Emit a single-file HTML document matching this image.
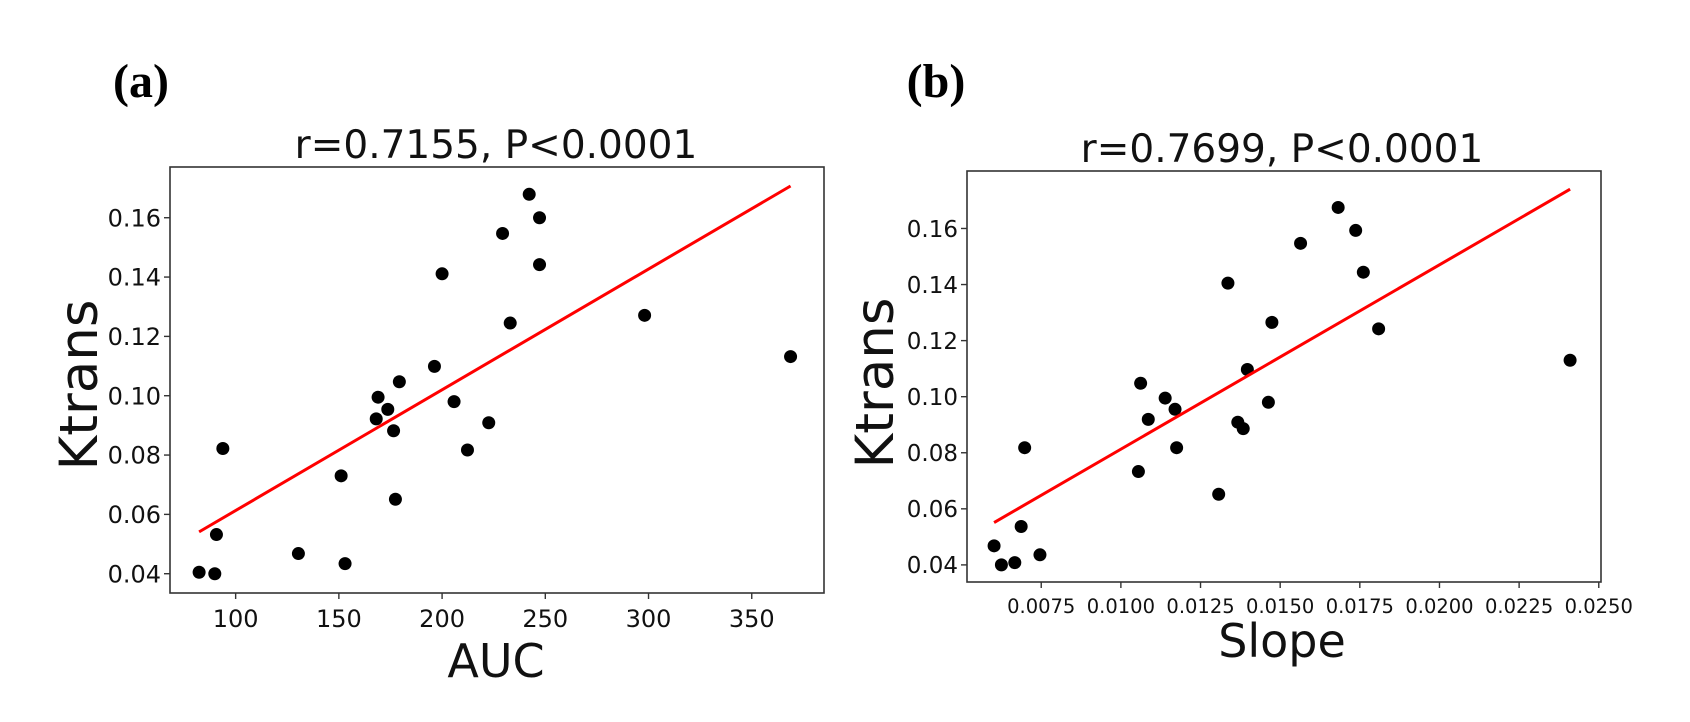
<!DOCTYPE html>
<html><head><meta charset="utf-8"><style>
html,body{margin:0;padding:0;background:#fff;width:1690px;height:722px;overflow:hidden}
svg{display:block;font-family:"DejaVu Sans","Liberation Sans",sans-serif}
</style></head><body>
<svg id="fig" width="1690" height="722" viewBox="0 0 1690 722" xmlns="http://www.w3.org/2000/svg">
<text x="141" y="97" text-anchor="middle" font-family="Liberation Serif, serif" font-weight="bold" font-size="48">(a)</text>
<text x="936" y="97" text-anchor="middle" font-family="Liberation Serif, serif" font-weight="bold" font-size="48">(b)</text>
</svg>
<script>
const aucX = [82.3,89.9,90.7,93.8,130.4,151.1,153.0,168.1,169.0,173.7,176.5,177.4,179.3,196.3,200.0,205.8,212.3,222.6,229.3,233.0,242.2,247.2,247.2,298.1,368.8];
const aucY = [0.0405,0.040,0.0532,0.0822,0.0468,0.073,0.0434,0.0922,0.0995,0.0954,0.0882,0.0651,0.1047,0.1099,0.1411,0.098,0.0817,0.0909,0.1547,0.1245,0.1679,0.16,0.1442,0.1271,0.1132];
const aucFitX = [82.3,368.8];
const aucFitY = [0.0541,0.1707];
const aucXTicks = [100,150,200,250,300,350];
const aucXTickLabels = ["100","150","200","250","300","350"];
const slopeX = [0.00602,0.00625,0.00667,0.00687,0.00746,0.00698,0.01055,0.01062,0.01086,0.01139,0.0117,0.01175,0.01307,0.01336,0.01367,0.01384,0.01397,0.01463,0.01474,0.01564,0.01682,0.01737,0.01761,0.01809,0.0241];
const slopeY = [0.0468,0.040,0.0408,0.0537,0.0436,0.0818,0.0733,0.1048,0.0919,0.0995,0.0955,0.0818,0.0652,0.1405,0.0909,0.0886,0.1097,0.098,0.1265,0.1547,0.1675,0.1593,0.1444,0.1242,0.113];
const slopeFitX = [0.00602,0.0241];
const slopeFitY = [0.0551,0.1740];
const slopeXTicks = [0.0075,0.0100,0.0125,0.0150,0.0175,0.0200,0.0225,0.0250];
const slopeXTickLabels = ["0.0075","0.0100","0.0125","0.0150","0.0175","0.0200","0.0225","0.0250"];
const kTicks = [0.04,0.06,0.08,0.10,0.12,0.14,0.16];
const kTickLabels = ["0.04","0.06","0.08","0.10","0.12","0.14","0.16"];

const NS="http://www.w3.org/2000/svg";
const svg=document.getElementById('fig');
function mk(tag,attrs,parent,text){const e=document.createElementNS(NS,tag);for(const k in attrs)e.setAttribute(k,attrs[k]);if(text!==undefined)e.textContent=text;(parent||svg).appendChild(e);return e;}

function panel(o){
  const g=mk('g',{});
  
  
  const sx=v=>o.x0+(v-o.xmin)/(o.xmax-o.xmin)*(o.x1-o.x0);
  const sy=v=>o.y1-(v-o.ymin)/(o.ymax-o.ymin)*(o.y1-o.y0);
  for(let i=0;i<o.px.length;i++){
    const c=mk('circle',{cx:sx(o.px[i]),cy:sy(o.py[i]),r:6.5,fill:'#000'},g);
    
    
  }
  const l=mk('line',{x1:sx(o.fx[0]),y1:sy(o.fy[0]),x2:sx(o.fx[1]),y2:sy(o.fy[1]),stroke:'#ff0000','stroke-width':3},g);
  
  
  const f=mk('rect',{x:o.x0,y:o.y0,width:o.x1-o.x0,height:o.y1-o.y0,fill:'none',stroke:'#333','stroke-width':1.6},g);
  
  
  o.xt.forEach((v,i)=>{
    const x=sx(v);
    mk('line',{x1:x,y1:o.y1,x2:x,y2:o.y1+6,stroke:'#333','stroke-width':1.4},g);
    const t=mk('text',{x:x,y:o.y1+o.xtdy,'text-anchor':'middle','font-size':o.xtfs,fill:'#111'},g,o.xtl[i]);
    
    
  });
  kTicks.forEach((v,i)=>{
    const y=sy(v);
    mk('line',{x1:o.x0-6,y1:y,x2:o.x0,y2:y,stroke:'#333','stroke-width':1.4},g);
    const t=mk('text',{x:o.x0-9,y:y+o.ytfs*0.36,'text-anchor':'end','font-size':o.ytfs,fill:'#111'},g,kTickLabels[i]);
    
    
  });
  const ti=mk('text',{x:o.tx,y:o.ty,'text-anchor':'middle','font-size':39,fill:'#111'},g,o.title);
  
  
  const yl=mk('text',{x:0,y:0,'text-anchor':'middle','font-size':53,fill:'#111',transform:`translate(${o.ylx},${o.yly}) rotate(-90)`},g,'Ktrans');
  
  
  const xl=mk('text',{x:o.tx,y:o.xly,'text-anchor':'middle','font-size':46,fill:'#111'},g,o.xlabel);
  
  
}

panel({name:'auc-panel',x0:170,x1:824,y0:167,y1:593,xmin:68.2,xmax:385,ymin:0.0335,ymax:0.1771,
  px:aucX,py:aucY,fx:aucFitX,fy:aucFitY,xt:aucXTicks,xtl:aucXTickLabels,xtfs:24,xtdy:34,ytfs:24,
  title:'r=0.7155, P<0.0001',tx:496,ty:158,ylx:97,yly:385,xlabel:'AUC',xly:677});
panel({name:'slope-panel',x0:967,x1:1601,y0:171,y1:582,xmin:0.00517,xmax:0.02507,ymin:0.0339,ymax:0.1805,
  px:slopeX,py:slopeY,fx:slopeFitX,fy:slopeFitY,xt:slopeXTicks,xtl:slopeXTickLabels,xtfs:19.5,xtdy:31,ytfs:23,
  title:'r=0.7699, P<0.0001',tx:1282,ty:162,ylx:893,yly:383,xlabel:'Slope',xly:657});
</script>
</body></html>
